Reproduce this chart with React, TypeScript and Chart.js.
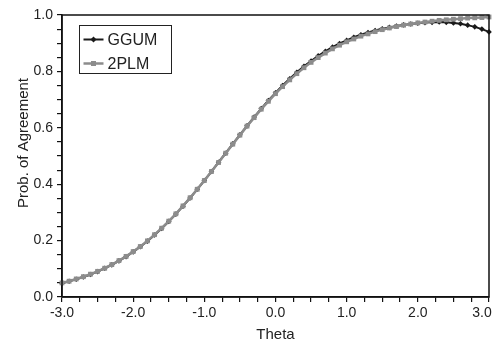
import React, { useEffect, useRef } from 'react';
import { Chart, registerables } from 'chart.js';

Chart.register(...registerables);

const theta = [
  -3.0, -2.9, -2.8, -2.7, -2.6, -2.5, -2.4, -2.3, -2.2, -2.1,
  -2.0, -1.9, -1.8, -1.7, -1.6, -1.5, -1.4, -1.3, -1.2, -1.1,
  -1.0, -0.9, -0.8, -0.7, -0.6, -0.5, -0.4, -0.3, -0.2, -0.1,
  0.0, 0.1, 0.2, 0.3, 0.4, 0.5, 0.6, 0.7, 0.8, 0.9,
  1.0, 1.1, 1.2, 1.3, 1.4, 1.5, 1.6, 1.7, 1.8, 1.9,
  2.0, 2.1, 2.2, 2.3, 2.4, 2.5, 2.6, 2.7, 2.8, 2.9, 3.0,
];

const ggum = [
  0.049, 0.056, 0.063, 0.071, 0.080, 0.090, 0.102, 0.114, 0.128, 0.143,
  0.160, 0.178, 0.198, 0.220, 0.243, 0.268, 0.294, 0.322, 0.351, 0.382,
  0.413, 0.445, 0.478, 0.510, 0.543, 0.575, 0.607, 0.638, 0.668, 0.697,
  0.724, 0.750, 0.774, 0.797, 0.818, 0.837, 0.855, 0.871, 0.886, 0.899,
  0.910, 0.921, 0.930, 0.938, 0.945, 0.951, 0.956, 0.961, 0.965, 0.968,
  0.971, 0.973, 0.974, 0.975, 0.974, 0.972, 0.969, 0.964, 0.958, 0.950, 0.940,
];

const twoPlm = [
  0.050, 0.056, 0.064, 0.072, 0.081, 0.091, 0.102, 0.115, 0.129, 0.144,
  0.161, 0.179, 0.199, 0.221, 0.244, 0.269, 0.295, 0.323, 0.352, 0.382,
  0.413, 0.445, 0.477, 0.510, 0.542, 0.574, 0.606, 0.636, 0.666, 0.694,
  0.721, 0.746, 0.770, 0.792, 0.813, 0.832, 0.849, 0.865, 0.880, 0.893,
  0.905, 0.915, 0.925, 0.933, 0.941, 0.948, 0.954, 0.959, 0.964, 0.968,
  0.972, 0.975, 0.978, 0.981, 0.983, 0.985, 0.987, 0.989, 0.990, 0.991, 0.993,
];

const seriesNames = ['GGUM', '2PLM'];
const xTitle = 'Theta';
const yTitle = 'Prob. of Agreement';

const FONT = '"Liberation Sans", Arial, Helvetica, sans-serif';
const TEXT = '#222';

const framePlugin = {
  id: 'frame',
  afterDatasetsDraw(chart: any) {
    const { ctx, chartArea: a } = chart;
    ctx.save();
    ctx.strokeStyle = '#111';
    ctx.lineWidth = 1.5;
    ctx.beginPath();
    ctx.moveTo(a.left, a.bottom);
    ctx.lineTo(a.left, a.top);
    ctx.lineTo(a.right, a.top);
    ctx.lineTo(a.right, a.bottom);
    ctx.lineTo(a.left, a.bottom);
    ctx.stroke();
    ctx.restore();
  },
  afterDraw(chart: any) {
    const { ctx, chartArea: a } = chart;
    ctx.save();
    // y-axis title
    ctx.fillStyle = TEXT;
    ctx.font = `15px ${FONT}`;
    ctx.textAlign = 'center';
    ctx.textBaseline = 'middle';
    ctx.translate(24, 143);
    ctx.rotate(-Math.PI / 2);
    ctx.fillText(yTitle, 0, 0);
    ctx.restore();

    // legend
    ctx.save();
    const bx = a.left + 17.5;
    const by = a.top + 10.5;
    const bw = 92;
    const bh = 48;
    ctx.fillStyle = '#fff';
    ctx.fillRect(bx, by, bw, bh);
    ctx.strokeStyle = '#222';
    ctx.lineWidth = 1;
    ctx.strokeRect(bx, by, bw, bh);
    const ds = chart.data.datasets;
    const rows = [by + 14, by + 38];
    ds.forEach((d: any, i: number) => {
      const y = rows[i];
      ctx.strokeStyle = d.borderColor;
      ctx.lineWidth = d.borderWidth;
      ctx.beginPath();
      ctx.moveTo(bx + 4, y);
      ctx.lineTo(bx + 24, y);
      ctx.stroke();
      ctx.fillStyle = d.pointBackgroundColor;
      if (i === 0) {
        ctx.beginPath();
        ctx.moveTo(bx + 14, y - 3);
        ctx.lineTo(bx + 17, y);
        ctx.lineTo(bx + 14, y + 3);
        ctx.lineTo(bx + 11, y);
        ctx.closePath();
        ctx.fill();
      } else {
        ctx.fillRect(bx + 11.5, y - 2.5, 5, 5);
      }
      ctx.fillStyle = TEXT;
      ctx.font = `16px ${FONT}`;
      ctx.textAlign = 'left';
      ctx.textBaseline = 'middle';
      ctx.fillText(d.label, bx + 28, y + 1);
    });
    ctx.restore();
  },
};

export default function App() {
  const ref = useRef<HTMLCanvasElement | null>(null);

  useEffect(() => {
    document.body.style.margin = '0';
    if (!ref.current) return;
    const chart = new Chart(ref.current, {
      type: 'line',
      data: {
        datasets: [
          {
            label: seriesNames[0],
            data: theta.map((t, i) => ({ x: t, y: ggum[i] })),
            borderColor: '#1a1a1a',
            backgroundColor: '#1a1a1a',
            pointBackgroundColor: '#1a1a1a',
            pointBorderColor: '#1a1a1a',
            borderWidth: 2,
            pointStyle: 'rectRot',
            pointRadius: 2.8,
            pointBorderWidth: 0,
            tension: 0,
            order: 2,
            clip: false,
          },
          {
            label: seriesNames[1],
            data: theta.map((t, i) => ({ x: t, y: twoPlm[i] })),
            borderColor: '#8c8c8c',
            backgroundColor: '#8c8c8c',
            pointBackgroundColor: '#8c8c8c',
            pointBorderColor: '#8c8c8c',
            borderWidth: 2.5,
            pointStyle: 'rect',
            pointRadius: 3.4,
            pointBorderWidth: 0,
            tension: 0,
            order: 1,
            clip: false,
          },
        ],
      },
      options: {
        animation: false,
        responsive: false,
        maintainAspectRatio: false,
        events: [],
        layout: { padding: { left: 0, top: 15, right: 4, bottom: 0 } },
        plugins: {
          legend: { display: false },
          tooltip: { enabled: false },
        },
        scales: {
          x: {
            type: 'linear',
            min: -3,
            max: 3,
            border: { display: true, color: '#111', width: 1.5 },
            grid: {
              display: true,
              drawOnChartArea: false,
              drawTicks: true,
              tickLength: 5,
              color: '#111',
              lineWidth: 1.2,
            },
            ticks: {
              stepSize: 0.25,
              autoSkip: false,
              maxRotation: 0,
              padding: 3,
              color: TEXT,
              font: { family: FONT, size: 14 },
              callback: (v: any) => {
                const n = Number(v);
                if (Math.abs(n - Math.round(n)) >= 1e-6) return '';
                const s = n.toFixed(1);
                return n >= 3 ? s + '\u2002\u2002' : s;
              },
            },
            title: {
              display: true,
              text: xTitle,
              color: TEXT,
              font: { family: FONT, size: 15 },
              padding: { top: 2, bottom: 0 },
            },
            afterFit: (s: any) => {
              s.height = 47;
              s.paddingLeft = 0;
              s.paddingRight = 0;
            },
          },
          y: {
            type: 'linear',
            min: 0,
            max: 1,
            border: { display: true, color: '#111', width: 1.5 },
            grid: {
              display: true,
              drawOnChartArea: false,
              drawTicks: true,
              tickLength: 5,
              color: '#111',
              lineWidth: 1.2,
            },
            ticks: {
              stepSize: 0.05,
              autoSkip: false,
              padding: 4,
              color: TEXT,
              font: { family: FONT, size: 14 },
              callback: (v: any) => {
                const n = Number(v) * 5;
                return Math.abs(n - Math.round(n)) < 1e-6 ? Number(v).toFixed(1) : '';
              },
            },
            afterFit: (s: any) => {
              s.width = 62;
              s.paddingTop = 0;
              s.paddingBottom = 0;
            },
          },
        },
      },
      plugins: [framePlugin],
    });
    return () => chart.destroy();
  }, []);

  return (
    <div style={{ width: 493, height: 344 }}>
      <canvas ref={ref} width={493} height={344} style={{ display: 'block' }} />
    </div>
  );
}
